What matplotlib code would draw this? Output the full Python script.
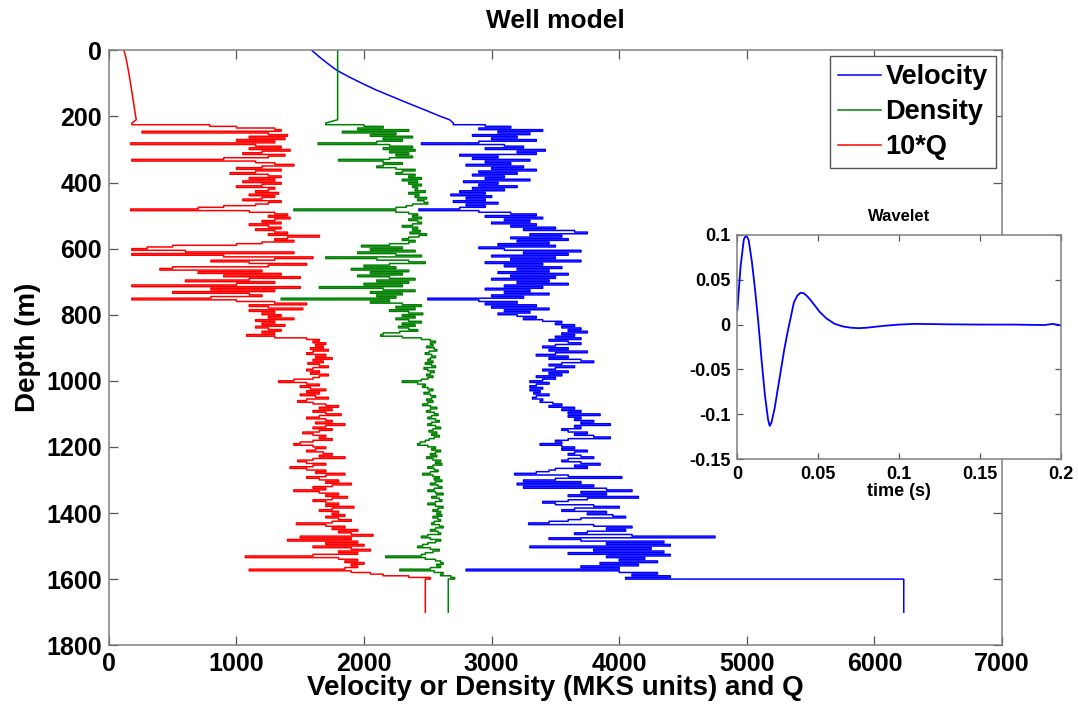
import numpy as np
import matplotlib.pyplot as plt
from matplotlib.ticker import FuncFormatter

# smooth shallow section (0-210 m)
top_depth = [0, 20, 40, 60, 80, 100, 120, 140, 160, 180, 200, 210]
top_vel = [1590, 1650, 1715, 1785, 1880, 1985, 2095, 2220, 2345, 2475, 2600, 2670]
top_rho = [1793] * 12
top_q10 = [118, 132, 143, 152, 161, 170, 178, 186, 194, 202, 210, 215]

# logged section, one sample per 5 m from 220 m to 1600 m, then the half-space to 1700 m
log_depth = list(np.arange(220, 1601, 5)) + [1700]

vel = [2700, 2950, 3150, 2900, 3400, 3050, 3300, 2850, 3200, 3000,
       3350, 2900, 2450, 3100, 3250, 2950, 3420, 3200, 3350, 2750,
       3050, 2850, 3300, 2950, 3150, 2800, 3250, 3000, 3350, 2900,
       3200, 2850, 3100, 2950, 3300, 2780, 3050, 2900, 3200, 2850,
       3100, 2750, 2950, 2680, 3000, 2800, 2950, 2700, 3050, 2800,
       2950, 2750, 2430, 2900, 3150, 3350, 2950, 3400, 3100, 3300,
       3000, 3350, 3150, 3500, 3250, 3650, 3750, 3300, 3550, 3150,
       3600, 3200, 3450, 3050, 3500, 2900, 3100, 3700, 3250, 3600,
       3000, 3500, 3150, 3700, 2950, 3400, 3100, 3550, 3200, 3450,
       3050, 3600, 3150, 3500, 3000, 3450, 3200, 3600, 3100, 3400,
       2950, 3300, 3100, 3450, 3000, 3250, 2500, 2900, 3200, 2950,
       3350, 3000, 3450, 3100, 3300, 3050, 3200, 3350, 3250, 3400,
       3550, 3500, 3650, 3550, 3700, 3600, 3750, 3550, 3650, 3500,
       3700, 3450, 3600, 3700, 3500, 3400, 3600, 3450, 3750, 3500,
       3350, 3600, 3450, 3700, 3800, 3550, 3450, 3650, 3500, 3400,
       3600, 3450, 3550, 3350, 3500, 3400, 3300, 3450, 3350, 3300,
       3400, 3300, 3380, 3330, 3450, 3350, 3320, 3400, 3380, 3480,
       3550, 3450, 3650, 3550, 3700, 3600, 3850, 3600, 3700, 3650,
       3800, 3700, 3930, 3650, 3700, 3550, 3600, 3750, 3650, 3800,
       3930, 3600, 3500, 3550, 3380, 3550, 3650, 3550, 3750, 3650,
       3600, 3700, 3800, 3600, 3550, 3700, 3850, 3650, 3750, 3500,
       3450, 3350, 3180, 3600, 4020, 3500, 3250, 3700, 3200, 3800,
       3250, 3900, 4100, 3700, 3900, 3600, 4150, 3750, 3600, 3400,
       3500, 3800, 4000, 3650, 3550, 3900, 3750, 3950, 4050, 3700,
       3600, 3450, 3290, 3800, 4100, 3900, 4050, 3750, 3650, 4100,
       4750, 3450, 3700, 4350, 3900, 4400, 3300, 4250, 3800, 4350,
       3600, 4400, 3900, 4200, 4000, 4300, 3850, 4150, 3700, 4000,
       2800, 4000, 4300, 4100, 4400, 4050, 6230,
       6230]

rho = [1700, 2000, 2150, 1950, 2350, 1830, 2250, 2050, 2380, 2150,
       2300, 2100, 1640, 2200, 2380, 2150, 2400, 2200, 2350, 2250,
       2380, 2200, 1800, 2150, 2300, 2150, 2100, 2250, 2400, 2300,
       2250, 2400, 2350, 2450, 2300, 2420, 2350, 2450, 2380, 2420,
       2400, 2480, 2350, 2430, 2400, 2490, 2420, 2470, 2500, 2380,
       2330, 2250, 1450, 2250, 2350, 2420, 2380, 2450, 2350, 2420,
       2450, 2380, 2300, 2420, 2380, 2440, 2360, 2490, 2430, 2350,
       2300, 2400, 2350, 2200, 1980, 2300, 2050, 2400, 1950, 2250,
       2450, 1700, 2100, 2350, 2480, 2200, 2000, 2250, 1900, 2350,
       2050, 2300, 1950, 2200, 2400, 2100, 2350, 2000, 2300, 1650,
       2150, 2400, 2050, 2300, 2100, 2250, 1350, 2200, 2050, 2300,
       2450, 2250, 2400, 2200, 2350, 2460, 2300, 2400, 2250, 2350,
       2450, 2300, 2400, 2270, 2350, 2420, 2280, 2150, 2130, 2300,
       2450, 2520, 2560, 2520, 2540, 2490, 2550, 2570, 2510, 2480,
       2530, 2560, 2520, 2500, 2540, 2480, 2530, 2560, 2470, 2500,
       2550, 2520, 2490, 2540, 2500, 2450, 2300, 2420, 2480, 2460,
       2500, 2540, 2510, 2470, 2520, 2560, 2530, 2490, 2540, 2500,
       2460, 2520, 2570, 2520, 2490, 2550, 2580, 2530, 2500, 2560,
       2590, 2530, 2500, 2560, 2600, 2540, 2510, 2570, 2530, 2590,
       2550, 2510, 2480, 2440, 2420, 2500, 2560, 2530, 2600, 2560,
       2520, 2570, 2490, 2540, 2600, 2560, 2610, 2540, 2500, 2550,
       2580, 2520, 2460, 2540, 2590, 2550, 2610, 2560, 2520, 2580,
       2610, 2550, 2500, 2560, 2620, 2570, 2530, 2590, 2610, 2560,
       2500, 2560, 2620, 2580, 2540, 2600, 2570, 2610, 2540, 2580,
       2600, 2550, 2530, 2590, 2620, 2560, 2520, 2580, 2600, 2500,
       2450, 2520, 2600, 2560, 2500, 2460, 2420, 2520, 2590, 2540,
       2480, 2450, 2170, 2480, 2560, 2600, 2620, 2570, 2600, 2520,
       2280, 2550, 2620, 2600, 2680, 2710, 2660,
       2660]

q10 = [180, 790, 1000, 1300, 1350, 260, 1250, 1400, 1100, 1380,
       1000, 1300, 170, 1150, 1350, 1100, 1420, 1200, 1050, 1380,
       1250, 900, 180, 1150, 1300, 1450, 1200, 1000, 1350, 1150,
       950, 1250, 1350, 1100, 1300, 1050, 1350, 1200, 1000, 1300,
       1250, 1150, 1330, 1100, 1300, 1200, 1050, 1350, 1250, 1150,
       900, 700, 170, 1100, 1300, 1400, 1250, 1420, 1300, 1200,
       1350, 1100, 1250, 1350, 1150, 1300, 1400, 1250, 1650, 1400,
       1300, 1450, 1200, 1000, 500, 300, 180, 600, 1450, 180,
       900, 1600, 1300, 800, 1100, 1550, 1250, 500, 400, 1200,
       700, 1350, 900, 1500, 1100, 600, 1300, 1000, 180, 1500,
       800, 1300, 500, 1100, 1200, 800, 180, 1000, 1300, 1550,
       1100, 1250, 1520, 1100, 1300, 1200, 1350, 1250, 1450, 1150,
       1300, 1200, 1380, 1150, 1250, 1350, 1200, 1300, 1080, 1300,
       1550, 1650, 1600, 1700, 1620, 1680, 1580, 1720, 1600, 1550,
       1700, 1620, 1750, 1600, 1680, 1560, 1650, 1720, 1600, 1550,
       1650, 1580, 1720, 1650, 1600, 1450, 1330, 1550, 1650, 1500,
       1580, 1700, 1550, 1650, 1500, 1620, 1720, 1550, 1480, 1600,
       1700, 1800, 1650, 1750, 1600, 1700, 1820, 1650, 1550, 1700,
       1750, 1620, 1850, 1700, 1600, 1750, 1650, 1520, 1600, 1700,
       1650, 1750, 1600, 1500, 1450, 1600, 1700, 1620, 1550, 1680,
       1750, 1650, 1850, 1600, 1480, 1550, 1700, 1600, 1420, 1550,
       1700, 1620, 1850, 1700, 1550, 1650, 1800, 1700, 1900, 1750,
       1600, 1700, 1450, 1650, 1800, 1700, 1870, 1750, 1600, 1700,
       1800, 1700, 1920, 1750, 1650, 1800, 1750, 1850, 1700, 1800,
       1900, 1750, 1470, 1700, 1850, 1750, 1950, 1800, 1900, 2070,
       1500, 1900, 1400, 1950, 1700, 2000, 1600, 1900, 2050, 1800,
       1950, 1600, 1070, 1800, 1950, 1850, 2000, 1900, 1950, 1850,
       1100, 1900, 2050, 2150, 2350, 2520, 2480,
       2480]

# source wavelet
wav_t = [0, 0.002, 0.004, 0.0055, 0.007, 0.009, 0.011, 0.013, 0.015, 0.017,
         0.019, 0.020, 0.021, 0.023, 0.025, 0.027, 0.029, 0.031, 0.033, 0.035,
         0.037, 0.039, 0.041, 0.043, 0.045, 0.048, 0.051, 0.055, 0.060, 0.065,
         0.070, 0.075, 0.080, 0.090, 0.100, 0.110, 0.130, 0.150, 0.170, 0.190,
         0.195, 0.200]
wav_a = [0.016, 0.065, 0.095, 0.100, 0.094, 0.070, 0.038, 0.002, -0.040, -0.078,
         -0.106, -0.113, -0.110, -0.094, -0.072, -0.050, -0.028, -0.009, 0.008, 0.025,
         0.032, 0.0355, 0.035, 0.032, 0.028, 0.021, 0.014, 0.007, 0.001, -0.002,
         -0.0035, -0.004, -0.0035, -0.0015, 0.0, 0.0008, 0.0003, 0.0, 0.0, -0.0005,
         0.0008, -0.0008]


def log_path(top_z, top_v, z, v):
    # hold each log sample down to the next depth (blocky well log)
    zz = np.repeat(z, 2)[1:]
    vv = np.repeat(v, 2)[:-1]
    return np.r_[top_v, vv], np.r_[top_z, zz]


def style_axes(ax, size, ticklen):
    ax.tick_params(direction='in', top=True, right=True, length=ticklen,
                   width=0.9, color='#555555', labelsize=size, pad=5)
    for s in ax.spines.values():
        s.set_color('#808080')
        s.set_linewidth(1.1)
    for lab in ax.get_xticklabels() + ax.get_yticklabels():
        lab.set_fontweight('bold')


plt.rcParams['font.family'] = ['Liberation Sans', 'DejaVu Sans']

fig = plt.figure(figsize=(10.78, 7.09), dpi=100)
ax = fig.add_axes([0.101, 0.09, 0.8285, 0.839])

x, y = log_path(top_depth, top_vel, log_depth, vel)
ax.plot(x, y, color='#0000ff', lw=1.1, label='Velocity')
x, y = log_path(top_depth, top_rho, log_depth, rho)
ax.plot(x, y, color='#008000', lw=1.1, label='Density')
x, y = log_path(top_depth, top_q10, log_depth, q10)
ax.plot(x, y, color='#ff0000', lw=1.1, label='10*Q')

ax.set_xlim(0, 7000)
ax.set_ylim(1800, 0)
ax.set_xticks(np.arange(0, 7001, 1000))
ax.set_yticks(np.arange(0, 1801, 200))
style_axes(ax, 18, 6.5)
ax.set_xlabel('Velocity or Density (MKS units) and Q', fontsize=20,
              fontweight='bold', labelpad=-1)
ax.set_ylabel('Depth (m)', fontsize=20, fontweight='bold', labelpad=4)
ax.set_title('Well model', fontsize=19, fontweight='bold', pad=16)

leg = ax.legend(loc='upper right', prop={'weight': 'bold', 'size': 19.5},
                fancybox=False, edgecolor='#555555', framealpha=1,
                handlelength=1.6, handletextpad=0.15, borderpad=0.3,
                labelspacing=0.33, borderaxespad=0.22)
leg.get_frame().set_linewidth(1.0)

# inset with the wavelet
ins = fig.add_axes([0.684, 0.3526, 0.300, 0.316])
ins.plot(wav_t, wav_a, color='#0000ff', lw=1.3)
ins.set_xlim(0, 0.2)
ins.set_ylim(-0.15, 0.1)
ins.set_xticks([0, 0.05, 0.1, 0.15, 0.2])
ins.set_yticks([-0.15, -0.1, -0.05, 0, 0.05, 0.1])
fmt = FuncFormatter(lambda v, p: '%g' % round(v, 3))
ins.xaxis.set_major_formatter(fmt)
ins.yaxis.set_major_formatter(fmt)
style_axes(ins, 13, 4)
ins.set_xlabel('time (s)', fontsize=13, fontweight='bold', labelpad=0)
ins.set_title('Wavelet', fontsize=12, fontweight='bold', pad=10)

fig.savefig('out.png', dpi=100)
